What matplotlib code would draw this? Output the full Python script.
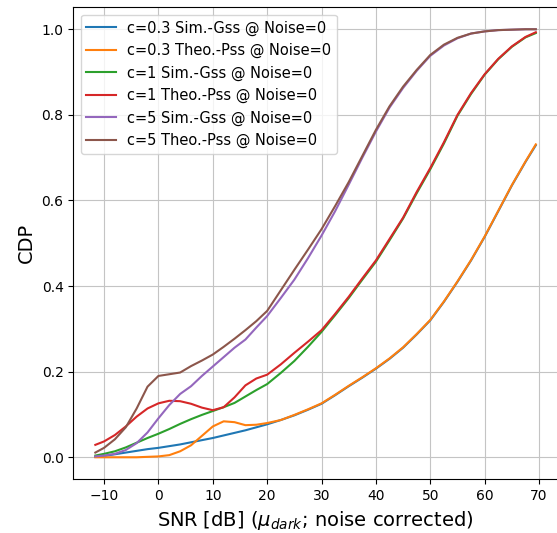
import matplotlib
matplotlib.use("Agg")
import matplotlib.pyplot as plt

# SNR grid (dB), shared by all curves
snr = [-11.6, -10, -8, -6, -4, -2, 0, 2, 4, 6, 8, 10, 12, 14, 16, 18, 20,
       22.5, 25, 27.5, 30, 32.5, 35, 37.5, 40, 42.5, 45, 47.5, 50, 52.5,
       55, 57.5, 60, 62.5, 65, 67.5, 69.4]

c03_sim = [0.001, 0.003, 0.007, 0.011, 0.015, 0.019, 0.022, 0.026, 0.030, 0.035,
           0.040, 0.045, 0.051, 0.057, 0.063, 0.070, 0.077, 0.087, 0.098, 0.111,
           0.125, 0.145, 0.166, 0.186, 0.207, 0.230, 0.256, 0.287, 0.320, 0.363,
           0.410, 0.460, 0.515, 0.575, 0.635, 0.690, 0.729]
c03_theo = [0.000, 0.000, 0.000, 0.000, 0.000, 0.001, 0.002, 0.005, 0.014, 0.028,
            0.050, 0.072, 0.084, 0.082, 0.075, 0.076, 0.080, 0.087, 0.099, 0.112,
            0.126, 0.146, 0.167, 0.187, 0.208, 0.231, 0.257, 0.288, 0.321, 0.364,
            0.411, 0.461, 0.516, 0.576, 0.636, 0.691, 0.731]
c1_sim = [0.004, 0.008, 0.014, 0.023, 0.034, 0.045, 0.055, 0.066, 0.078, 0.089,
          0.099, 0.108, 0.117, 0.127, 0.142, 0.157, 0.171, 0.197, 0.225, 0.258,
          0.293, 0.332, 0.372, 0.415, 0.457, 0.507, 0.558, 0.617, 0.673, 0.733,
          0.798, 0.849, 0.894, 0.930, 0.959, 0.981, 0.991]
c1_theo = [0.029, 0.037, 0.052, 0.072, 0.095, 0.114, 0.126, 0.132, 0.131, 0.125,
           0.116, 0.110, 0.117, 0.140, 0.168, 0.184, 0.193, 0.217, 0.244, 0.270,
           0.297, 0.335, 0.375, 0.418, 0.460, 0.510, 0.560, 0.620, 0.676, 0.736,
           0.800, 0.851, 0.895, 0.931, 0.960, 0.982, 0.993]
c5_sim = [0.002, 0.004, 0.008, 0.017, 0.033, 0.058, 0.091, 0.122, 0.148, 0.166,
          0.190, 0.212, 0.234, 0.256, 0.275, 0.303, 0.330, 0.372, 0.415, 0.465,
          0.518, 0.575, 0.637, 0.700, 0.761, 0.817, 0.863, 0.903, 0.938, 0.962,
          0.979, 0.990, 0.995, 0.998, 0.999, 1.000, 1.000]
c5_theo = [0.011, 0.022, 0.042, 0.070, 0.114, 0.165, 0.190, 0.194, 0.198, 0.213,
           0.226, 0.240, 0.258, 0.277, 0.297, 0.318, 0.342, 0.390, 0.438, 0.485,
           0.533, 0.587, 0.643, 0.704, 0.765, 0.820, 0.866, 0.905, 0.940, 0.964,
           0.980, 0.990, 0.995, 0.998, 0.999, 1.000, 1.000]

series = [
    ("c=0.3 Sim.-Gss @ Noise=0", c03_sim),
    ("c=0.3 Theo.-Pss @ Noise=0", c03_theo),
    ("c=1 Sim.-Gss @ Noise=0", c1_sim),
    ("c=1 Theo.-Pss @ Noise=0", c1_theo),
    ("c=5 Sim.-Gss @ Noise=0", c5_sim),
    ("c=5 Theo.-Pss @ Noise=0", c5_theo),
]

fig = plt.figure(figsize=(5.57, 5.33), dpi=100)
ax = fig.add_axes([0.1316, 0.1008, 0.8694, 0.8856])

for label, vals in series:
    ax.plot(snr, vals, label=label, linewidth=1.5)

ax.set_xlim(-15.65, 73.4)
ax.set_ylim(-0.0514, 1.0514)
ax.set_xticks([-10, 0, 10, 20, 30, 40, 50, 60, 70])
ax.set_yticks([0.0, 0.2, 0.4, 0.6, 0.8, 1.0])
ax.tick_params(labelsize=10)
ax.grid(True, color="#c4c4c4")
ax.set_xlabel(r"SNR [dB] ($\mu_{dark}$; noise corrected)", fontsize=14)
ax.set_ylabel("CDP", fontsize=14)
ax.legend(loc="upper left", fontsize=10.5)

fig.savefig("out.png", dpi=100)
